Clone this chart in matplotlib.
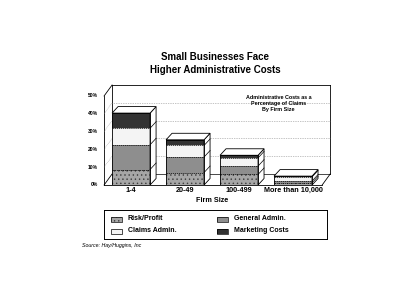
import matplotlib
matplotlib.use("Agg")
import matplotlib.pyplot as plt
from matplotlib.patches import Polygon, Rectangle
import numpy as np

plt.rcParams['font.family'] = ['Liberation Sans', 'DejaVu Sans']
plt.rcParams['hatch.linewidth'] = 0.5

categories = ["1-4", "20-49", "100-499", "More than 10,000"]
risk_profit = [8.7, 7.0, 5.9, 1.2]
general_admin = [13.9, 8.7, 4.7, 1.0]
claims_admin = [9.3, 6.5, 4.6, 2.3]
marketing = [8.5, 3.2, 1.5, 0.5]
yticks = [0, 10, 20, 30, 40, 50]
ytick_labels = ["0%", "10%", "20%", "30%", "40%", "50%"]
series_names = ["Risk/Profit", "General Admin.", "Claims Admin.", "Marketing Costs"]

series = [risk_profit, general_admin, claims_admin, marketing]
face = ["#a6a6a6", "#8e8e8e", "#f4f4f4", "#333333"]
hatches = ["....", "", "", ""]
hatch_col = ["#3c3c3c", "#8e8e8e", "#d0d0d0", "#333333"]

fig = plt.figure(figsize=(4.0, 3.04), dpi=100)
fig.patch.set_facecolor("white")
W, H = 400, 304
ax = fig.add_axes([103 / W, 1 - 185 / H, (330 - 103) / W, (185 - 87) / H])
xmin, xmax = -0.52, 3.685
ymax = (185 - 87) / 1.78
ax.set_xlim(xmin, xmax)
ax.set_ylim(0, ymax)
ax.axis("off")

px_x = (xmax - xmin) / (330 - 103)
px_y = ymax / (185 - 87)
DX, DY = 8 * px_x, 11 * px_y
ddx, ddy = 6 * px_x, 6.5 * px_y
bw = 38 * px_x

# box frame
x0, x1 = xmin + 0.02, 3.54
top = 50
lk = dict(color="black", lw=0.6, clip_on=False, zorder=1)
ax.plot([x0, x0], [0, top], **lk)
ax.plot([x0, x0 + DX], [top, top + DY], **lk)
ax.plot([x0, x0 + DX], [0, DY], **lk)
ax.plot([x0 + DX, x0 + DX], [DY, top + DY], **lk)
ax.plot([x0 + DX, x1 + DX], [top + DY, top + DY], **lk)
ax.plot([x1 + DX, x1 + DX], [DY, top + DY], **lk)
ax.plot([x1, x1 + DX], [0, DY], **lk)
ax.plot([x0, x1], [0, 0], **lk)
ax.plot([x0 + DX, x1 + DX], [DY, DY], color="black", lw=0.5, clip_on=False, zorder=1)
for t in yticks[1:-1]:
    ax.plot([x0 + DX, x1 + DX], [t + DY, t + DY], color="#888888", lw=0.5,
            ls=(0, (1, 1.5)), clip_on=False, zorder=1)
    ax.plot([x0, x0 + DX], [t, t + DY], color="#888888", lw=0.4,
            ls=(0, (1, 1.5)), clip_on=False, zorder=1)

for t, lab in zip(yticks, ytick_labels):
    ax.text(x0 - 6 * px_x, t, lab, ha="right", va="center", fontsize=3.6,
            fontweight="bold", clip_on=False)

xs = np.arange(len(categories))
bottoms = np.zeros(len(categories))
for k, vals in enumerate(series):
    ax.bar(xs, vals, bw, bottom=bottoms, color=face[k], hatch=hatches[k],
           edgecolor=hatch_col[k], linewidth=0, zorder=3)
    bottoms = bottoms + np.array(vals)

totals = bottoms
for i, x in enumerate(xs):
    L, R = x - bw / 2, x + bw / 2
    T = totals[i]
    ax.add_patch(Polygon([[R, 0], [R + ddx, ddy], [R + ddx, T + ddy], [R, T]],
                         closed=True, facecolor="white", edgecolor="black", lw=0.6, zorder=4))
    ax.add_patch(Polygon([[L, T], [L + ddx, T + ddy], [R + ddx, T + ddy], [R, T]],
                         closed=True, facecolor="white", edgecolor="black", lw=0.6, zorder=4))
    ax.add_patch(Rectangle((L, 0), bw, T, fill=False, edgecolor="black", lw=0.6, zorder=5))
    c = 0
    for k in range(len(series) - 1):
        c += series[k][i]
        ax.plot([L, R], [c, c], color="black", lw=0.5, ls=(0, (2, 1)), zorder=5)
        ax.plot([R, R + ddx], [c, c + ddy], color="black", lw=0.5, zorder=5)
    ax.text(x, -3.0, categories[i], ha="center", va="center", fontsize=5.2,
            fontweight="bold", clip_on=False)

ax.text(1.5, -8.6, "Firm Size", ha="center", va="center", fontsize=5.2,
        fontweight="bold", clip_on=False)

ax.text(2.73, 50.5, "Administrative Costs as a\nPercentage of Claims\nBy Firm Size",
        ha="center", va="top", fontsize=3.9, fontweight="bold", linespacing=1.2, zorder=6)

# title
fig.text(215 / W, 1 - 57 / H, "Small Businesses Face", ha="center", va="center",
         fontsize=7, fontweight="bold")
fig.text(215 / W, 1 - 70 / H, "Higher Administrative Costs", ha="center", va="center",
         fontsize=7, fontweight="bold")

# legend box
lax = fig.add_axes([104 / W, 1 - 238.5 / H, (327 - 104) / W, (238.5 - 210) / H])
lax.set_xlim(104, 327)
lax.set_ylim(238.5, 210)
lax.set_xticks([])
lax.set_yticks([])
for s in lax.spines.values():
    s.set_linewidth(0.7)
pos = [(111, 219), (217, 219), (111, 231), (217, 231)]
order = [0, 1, 2, 3]
for k, (px, py) in zip(order, pos):
    lax.add_patch(Rectangle((px, py - 2.5), 11, 5, facecolor=face[k], hatch=hatches[k],
                            edgecolor=hatch_col[k], lw=0))
    lax.add_patch(Rectangle((px, py - 2.5), 11, 5, fill=False, edgecolor="black", lw=0.5))
    lax.text(px + 17, py, series_names[k], ha="left", va="center", fontsize=5,
             fontweight="bold")

fig.text(82 / W, 1 - 245 / H, "Source: Hay/Huggins, Inc", ha="left", va="center",
         fontsize=3.8, style="italic")

fig.savefig("out.png", dpi=100, facecolor="white")
